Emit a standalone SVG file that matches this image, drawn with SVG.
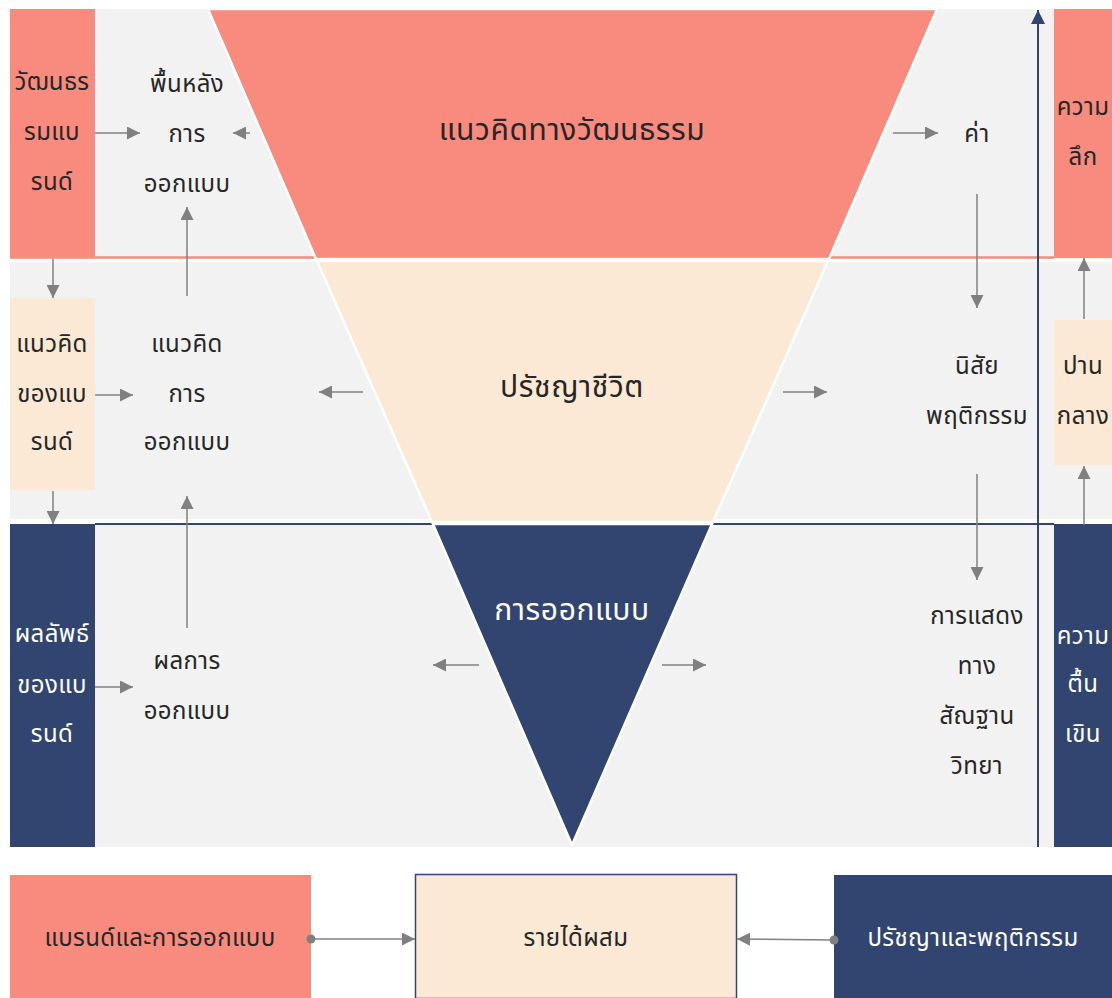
<svg xmlns="http://www.w3.org/2000/svg" width="1112" height="998" viewBox="0 0 1112 998">
<style>
text{font-family:"Noto Sans Thai","Noto Sans","DejaVu Sans",sans-serif;text-anchor:middle;dominant-baseline:central}
.t{font-size:24px;fill:#262626;letter-spacing:0.4px}
.w{font-size:24px;fill:#ffffff;letter-spacing:0.4px}
.big{font-size:30px;letter-spacing:0.6px}
.salmon{fill:#f98b7e}
.cream{fill:#fbe9d5}
.navy{fill:#314570}
.bg{fill:#f2f2f2}
.ar{stroke:#808080;stroke-width:1.5;fill:none;marker-end:url(#ah)}
</style>
<defs>
<marker id="ah" viewBox="0 0 10 10" refX="10" refY="5" markerWidth="15" markerHeight="13" markerUnits="userSpaceOnUse" orient="auto">
<path d="M0,0 L10,5 L0,10 z" fill="#808080"/>
</marker>
<marker id="ahn" viewBox="0 0 10 10" refX="10" refY="5" markerWidth="16" markerHeight="14" markerUnits="userSpaceOnUse" orient="auto">
<path d="M0,0 L10,5 L0,10 z" fill="#314570"/>
</marker>
</defs>
<rect width="1112" height="998" fill="#ffffff"/>
<g id="background">
<rect class="bg" x="10" y="9" width="1102" height="250"/>
<rect class="bg" x="10" y="262" width="1102" height="257"/>
<rect class="bg" x="10" y="525" width="1102" height="322"/>
<line x1="10" y1="257.5" x2="1054" y2="257.5" stroke="#f98b7e" stroke-width="2.5"/>
<line x1="95" y1="524" x2="1054" y2="524" stroke="#314570" stroke-width="2"/>
</g>
<g id="funnel">
<polygon class="salmon" points="208,9 937,9 829,259 316,259" stroke="#ffffff" stroke-width="2.5"/>
<polygon class="cream" points="317,261 828,261 713,522 432,522" stroke="#ffffff" stroke-width="2.5"/>
<polygon class="navy" points="433,524 712,524 572,845" stroke="#ffffff" stroke-width="2.5"/>
<text class="t big" x="572" y="131">แนวคิดทางวัฒนธรรม</text>
<text class="t big" x="572" y="388">ปรัชญาชีวิต</text>
<text class="w big" x="572" y="611">การออกแบบ</text>
</g>
<g id="left-culture">
<rect class="salmon" x="10" y="9" width="85" height="249"/>
<text class="t" x="52" y="83">วัฒนธร</text>
<text class="t" x="52" y="133">รมแบ</text>
<text class="t" x="52" y="183">รนด์</text>
</g>
<g id="left-concept">
<rect class="cream" x="10" y="298" width="85" height="192"/>
<text class="t" x="52" y="345">แนวคิด</text>
<text class="t" x="52" y="395">ของแบ</text>
<text class="t" x="52" y="443">รนด์</text>
</g>
<g id="left-result">
<rect class="navy" x="10" y="524" width="85" height="323"/>
<text class="w" x="52" y="635">ผลลัพธ์</text>
<text class="w" x="52" y="686">ของแบ</text>
<text class="w" x="52" y="735">รนด์</text>
</g>
<g id="design-background">
<text class="t" x="187" y="85">พื้นหลัง</text>
<text class="t" x="187" y="135">การ</text>
<text class="t" x="187" y="185">ออกแบบ</text>
</g>
<g id="design-concept">
<text class="t" x="187" y="345">แนวคิด</text>
<text class="t" x="187" y="395">การ</text>
<text class="t" x="187" y="443">ออกแบบ</text>
</g>
<g id="design-result">
<text class="t" x="187" y="662">ผลการ</text>
<text class="t" x="187" y="712">ออกแบบ</text>
</g>
<g id="value">
<text class="t" x="977" y="135">ค่า</text>
</g>
<g id="behavior">
<text class="t" x="977" y="367">นิสัย</text>
<text class="t" x="977" y="417">พฤติกรรม</text>
</g>
<g id="morphology">
<text class="t" x="977" y="617">การแสดง</text>
<text class="t" x="977" y="667">ทาง</text>
<text class="t" x="977" y="717">สัณฐาน</text>
<text class="t" x="977" y="767">วิทยา</text>
</g>
<g id="right-deep">
<rect class="salmon" x="1054" y="9" width="58" height="249"/>
<text class="t" x="1083" y="108">ความ</text>
<text class="t" x="1083" y="158">ลึก</text>
</g>
<g id="right-medium">
<rect class="cream" x="1054" y="320" width="58" height="145"/>
<text class="t" x="1083" y="367">ปาน</text>
<text class="t" x="1083" y="417">กลาง</text>
</g>
<g id="right-shallow">
<rect class="navy" x="1054" y="524" width="58" height="323"/>
<text class="w" x="1083" y="637">ความ</text>
<text class="w" x="1083" y="685">ตื้น</text>
<text class="w" x="1083" y="735">เขิน</text>
</g>
<g id="bottom-brand">
<rect class="salmon" x="10" y="875" width="301" height="123"/>
<text class="t" x="160" y="939">แบรนด์และการออกแบบ</text>
</g>
<g id="bottom-income">
<rect class="cream" x="415.5" y="874.5" width="321" height="124" stroke="#314570" stroke-width="1.5"/>
<text class="t" x="576" y="939">รายได้ผสม</text>
</g>
<g id="bottom-philosophy">
<rect class="navy" x="834" y="875" width="278" height="123"/>
<text class="w" x="973" y="939">ปรัชญาและพฤติกรรม</text>
</g>
<g id="connectors">
<line class="ar" x1="95" y1="133" x2="140" y2="133"/>
<line class="ar" x1="250" y1="133" x2="233" y2="133"/>
<line class="ar" x1="187" y1="296" x2="187" y2="207"/>
<line class="ar" x1="53" y1="259" x2="53" y2="298"/>
<line class="ar" x1="95" y1="395" x2="133" y2="395"/>
<line class="ar" x1="363" y1="392" x2="319" y2="392"/>
<line class="ar" x1="53" y1="491" x2="53" y2="524"/>
<line class="ar" x1="187" y1="628" x2="187" y2="496"/>
<line class="ar" x1="95" y1="687" x2="133" y2="687"/>
<line class="ar" x1="479" y1="665" x2="433" y2="665"/>
<line class="ar" x1="662" y1="665" x2="706" y2="665"/>
<line class="ar" x1="783" y1="392" x2="827" y2="392"/>
<line class="ar" x1="893" y1="133" x2="938" y2="133"/>
<line class="ar" x1="977" y1="194" x2="977" y2="308"/>
<line class="ar" x1="977" y1="474" x2="977" y2="580"/>
<line class="ar" x1="1084" y1="319" x2="1084" y2="258"/>
<line class="ar" x1="1084" y1="525" x2="1084" y2="466"/>
<line x1="1038" y1="847" x2="1038" y2="10" stroke="#314570" stroke-width="2" marker-end="url(#ahn)"/>
<line class="ar" x1="311" y1="939" x2="415" y2="939"/>
<circle cx="311" cy="939" r="4.5" fill="#808080"/>
<line class="ar" x1="834" y1="940" x2="737" y2="939"/>
<circle cx="834" cy="940" r="4.5" fill="#808080"/>
</g>
</svg>
